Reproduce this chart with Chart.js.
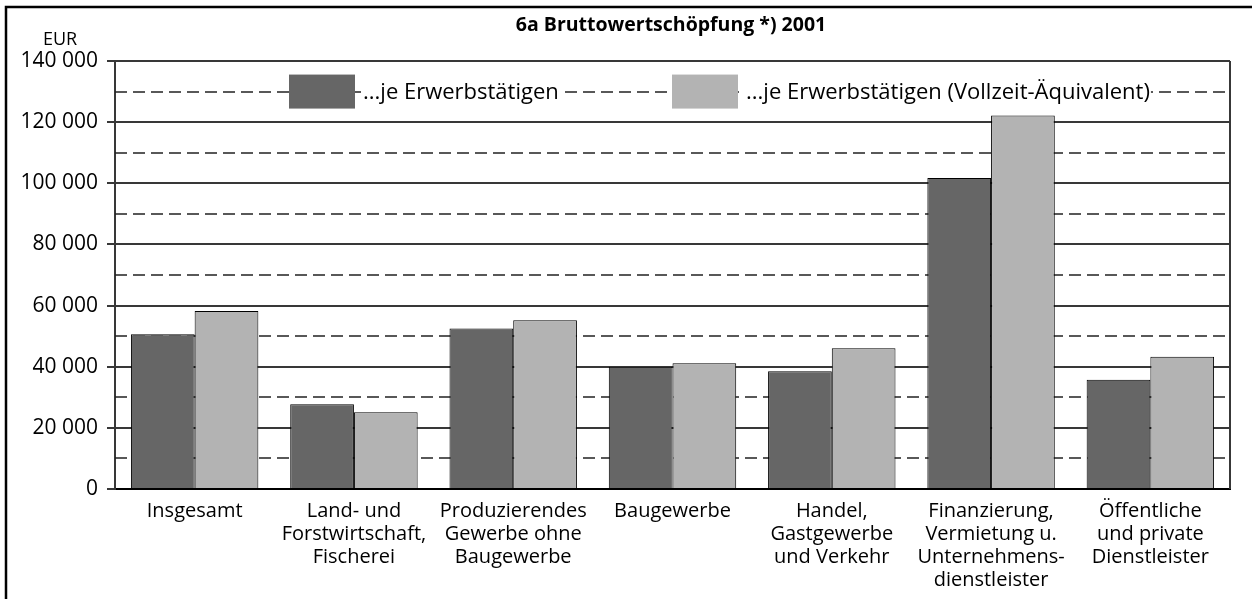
<!DOCTYPE html>
<html lang="de">
<head>
<meta charset="utf-8">
<script src="https://cdn.jsdelivr.net/npm/chart.js@4/dist/chart.umd.min.js"></script>
<style>
  html, body { margin: 0; padding: 0; background: #fff; }
  #wrap { width: 1252px; height: 599px; position: relative; }
</style>
</head>
<body>
<div id="wrap"><canvas id="bwsChart"></canvas></div>
<script>
// Daten
const categories = [
    ['Insgesamt'],
    ['Land- und', 'Forstwirtschaft,', 'Fischerei'],
    ['Produzierendes', 'Gewerbe ohne', 'Baugewerbe'],
    ['Baugewerbe'],
    ['Handel,', 'Gastgewerbe', 'und Verkehr'],
    ['Finanzierung,', 'Vermietung u.', 'Unternehmens-', 'dienstleister'],
    ['Öffentliche', 'und private', 'Dienstleister']
];
const seriesNames = ['...je Erwerbstätigen', '...je Erwerbstätigen (Vollzeit-Äquivalent)'];
const perWorker = [50600, 27700, 52500, 40000, 38500, 101700, 35700];
const perFTE = [58200, 25100, 55200, 41100, 46000, 122200, 43300];
const yTicks = [0, 20000, 40000, 60000, 80000, 100000, 120000, 140000];

const FONT = "'Open Sans', 'Noto Sans', sans-serif";
const DARK = '#666666';
const LIGHT = '#b3b3b3';
const GRID = '#383838';

function fmt(v) {
    return String(v).replace(/\B(?=(\d{3})+(?!\d))/g, ' ');
}

// Rahmen, Titel, gestrichelte Zwischenlinien, Legende
const decor = {
    id: 'decor',
    beforeDraw(chart) {
        const ctx = chart.ctx;
        ctx.save();
        ctx.fillStyle = '#fff';
        ctx.fillRect(0, 0, chart.width, chart.height);
        ctx.strokeStyle = '#000';
        ctx.lineWidth = 2.5;
        ctx.strokeRect(6, 7, chart.width + 20, chart.height + 20);
        ctx.fillStyle = '#000';
        ctx.font = 'bold 19.5px ' + FONT;
        ctx.textAlign = 'center';
        ctx.textBaseline = 'middle';
        ctx.fillText('6a Bruttowertschöpfung *) 2001', 671, 25);
        ctx.font = '18px ' + FONT;
        ctx.fillText('EUR', 60, 40);
        ctx.restore();
    },
    beforeDatasetsDraw(chart) {
        const ctx = chart.ctx;
        const y = chart.scales.y;
        const area = chart.chartArea;
        ctx.save();
        ctx.strokeStyle = '#222';
        ctx.lineWidth = 1.5;
        ctx.setLineDash([12, 6]);
        y.ticks.forEach(t => {
            if (t.value % 20000 === 0) return;
            const py = Math.round(y.getPixelForValue(t.value));
            ctx.beginPath();
            ctx.moveTo(area.left, py);
            ctx.lineTo(area.right, py);
            ctx.stroke();
        });
        ctx.setLineDash([]);
        ctx.strokeStyle = GRID;
        ctx.lineWidth = 2;
        ctx.beginPath();
        ctx.moveTo(area.right, area.top);
        ctx.lineTo(area.right, area.bottom);
        ctx.stroke();
        ctx.restore();
    },
    afterDatasetsDraw(chart) {
        const ctx = chart.ctx;
        const legendY = chart.scales.y.getPixelForValue(130000);
        const items = [
            { x: 289, color: DARK, text: seriesNames[0] },
            { x: 672, color: LIGHT, text: seriesNames[1] }
        ];
        ctx.save();
        ctx.font = '22px ' + FONT;
        ctx.textBaseline = 'middle';
        ctx.textAlign = 'left';
        items.forEach(it => {
            ctx.fillStyle = it.color;
            ctx.fillRect(it.x, legendY - 17, 66, 34);
            const tx = it.x + 74;
            const w = ctx.measureText(it.text).width;
            ctx.fillStyle = '#fff';
            ctx.fillRect(tx - 1, legendY - 12, w + 2, 24);
            ctx.fillStyle = '#000';
            ctx.fillText(it.text, tx, legendY + 1);
        });
        ctx.restore();
    }
};

Chart.defaults.font.family = FONT;
Chart.defaults.color = '#000';

new Chart(document.getElementById('bwsChart'), {
    type: 'bar',
    data: {
        labels: categories,
        datasets: [
            {
                label: seriesNames[0],
                data: perWorker,
                backgroundColor: DARK,
                borderColor: '#000',
                borderWidth: 1,
                categoryPercentage: 0.8,
                barPercentage: 1.0
            },
            {
                label: seriesNames[1],
                data: perFTE,
                backgroundColor: LIGHT,
                borderColor: '#000',
                borderWidth: 1,
                categoryPercentage: 0.8,
                barPercentage: 1.0
            }
        ]
    },
    options: {
        responsive: true,
        maintainAspectRatio: false,
        animation: false,
        layout: { padding: { top: 61, right: 22, left: 0, bottom: 0 } },
        plugins: {
            legend: { display: false },
            title: { display: false },
            tooltip: { enabled: false }
        },
        scales: {
            x: {
                grid: { display: false },
                border: { display: true, color: '#000', width: 2 },
                ticks: {
                    font: { size: 20, lineHeight: 1.15 },
                    padding: 3,
                    maxRotation: 0,
                    autoSkip: false
                },
                afterFit(scale) { scale.height = 110; }
            },
            y: {
                min: 0,
                max: 140000,
                afterBuildTicks(scale) {
                    const t = [];
                    for (let v = 0; v <= 140000; v += 10000) t.push({ value: v });
                    scale.ticks = t;
                },
                grid: {
                    color: c => (c.tick && c.tick.value % 20000 === 0) ? GRID : 'rgba(0,0,0,0)',
                    tickColor: c => (c.tick && c.tick.value % 20000 === 0) ? GRID : 'rgba(0,0,0,0)',
                    lineWidth: 2,
                    tickLength: 8
                },
                border: { display: true, color: GRID, width: 2 },
                ticks: {
                    font: { size: 21 },
                    padding: 9,
                    autoSkip: false,
                    callback: v => yTicks.includes(v) ? fmt(v) : ''
                },
                afterFit(scale) { scale.width = 115; }
            }
        }
    },
    plugins: [decor]
});
</script>
</body>
</html>
